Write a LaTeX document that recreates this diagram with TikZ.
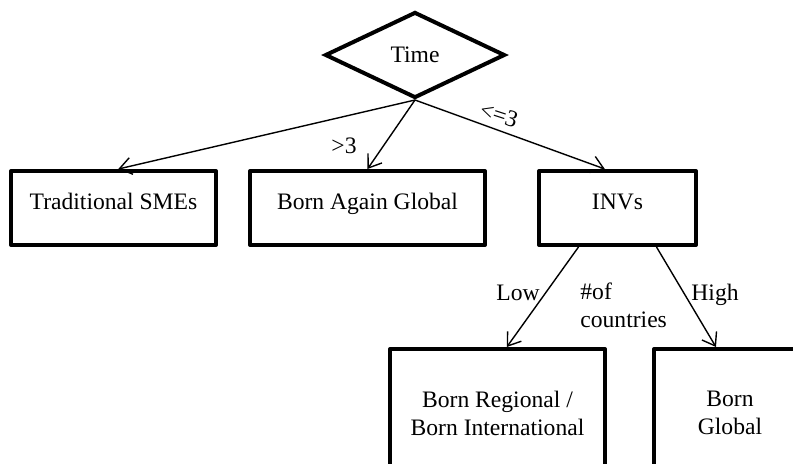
\documentclass[tikz,border=0pt]{standalone}
\usepackage{fontspec}
\setmainfont{Liberation Serif}
\usepackage{tikz}
\usetikzlibrary{shapes, arrows.meta}
\tikzset{
    dec/.style={draw, diamond, aspect=2, line width=2pt, inner sep=0pt, minimum width=90pt, minimum height=43pt},
    leaf/.style={draw, rectangle, line width=2pt, line join=round, minimum height=37pt, text depth=6.5pt},
    leafLow/.style={draw, rectangle, line width=2pt, line join=round, minimum height=64pt, align=center},
    lbl/.style={inner sep=0pt},
    conn/.style={-{Straight Barb[length=6pt, width=8.5pt]}, line width=0.7pt},
}

\begin{document}
\begin{tikzpicture}[x=0.5pt, y=-0.5pt, font=\fontsize{11.8}{14}\selectfont]
        \useasboundingbox (0,0) rectangle (793,463);

        \node [dec] (r) at (415,55) {Time};

        \node [leaf, minimum width=102.5pt] (ch1) at (113.5,208) {Traditional SMEs};
        \node [leaf, minimum width=117.5pt] (ch2) at (367.5,208) {Born Again Global};
        \node [leaf, minimum width=78.5pt] (ch3) at (617.5,208) {INVs};

        \node [leafLow, minimum width=107.5pt] (ch3a) at (497.5,413) {Born Regional /\\Born International};
        \node [leafLow, minimum width=76pt] (ch3b) at (730,413) {Born\\Global};

        \node [lbl] (txt1) at (344,146) {>3};
        \node [lbl, rotate=-18] (txt2) at (499,115) {<=3};
        \node [lbl] (txt3) at (518,293) {Low};
        \node [lbl, align=left, anchor=west] (txt4) at (580,305) {\#of\\countries};
        \node [lbl] (txt5) at (715,295) {High};

        \draw [conn] (r.south) -- (ch1.83);
        \draw [conn] (r.south) -- (ch2.north);
        \draw [conn] (r.south) -- (ch3.108);

        \draw [conn] (ch3.-135) -- (ch3a.82);
        \draw [conn] (ch3.-45) -- (ch3b.102);
\end{tikzpicture}
\end{document}
